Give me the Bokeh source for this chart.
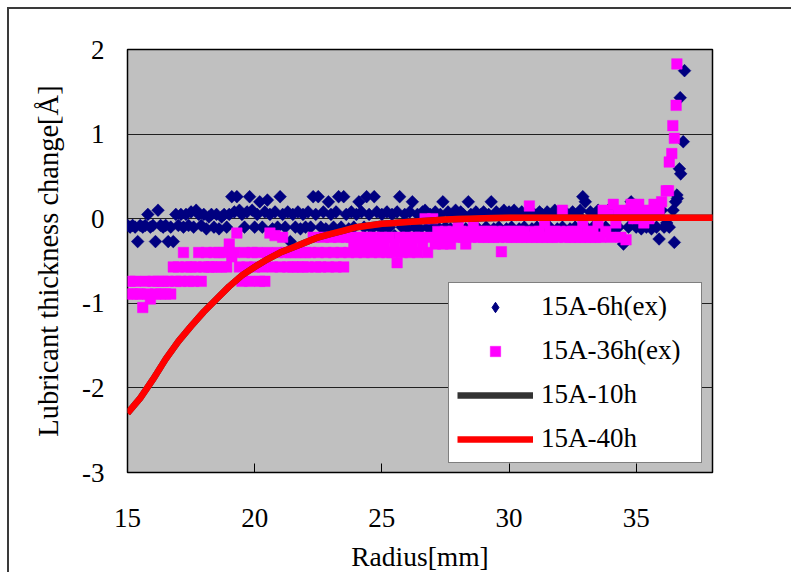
import numpy as np
from bokeh.plotting import figure
from bokeh.models import Legend, LegendItem, FixedTicker, ColumnDataSource, Range1d
from bokeh.embed import file_html
from bokeh.resources import INLINE

# ---------------- data ----------------
# 15A-6h(ex): values on a 0.1 mm radius grid starting at 15.0 mm (one row per mm)
ex6h_rows = [
    [-0.08, -0.10, -0.08, -0.10, -0.27, -0.08, -0.10, -0.08, 0.05, -0.10],   # 15
    [-0.08, -0.27, 0.10, -0.08, -0.10, -0.08, -0.27, -0.10, -0.27, 0.05],    # 16
    [-0.08, 0.05, -0.10, 0.05, -0.08, 0.08, -0.10, 0.10, 0.05, -0.08],       # 17
    [0.05, -0.12, 0.02, 0.05, -0.10, 0.05, -0.12, 0.02, 0.05, -0.10],        # 18
    [0.05, 0.26, 0.08, 0.26, 0.10, 0.05, -0.10, 0.08, 0.26, 0.10],           # 19
    [-0.10, 0.05, 0.20, -0.10, 0.08, 0.22, 0.05, -0.12, 0.08, -0.10],        # 20
    [0.26, 0.05, -0.10, 0.08, -0.27, 0.05, -0.10, 0.08, -0.12, 0.05],        # 21
    [-0.10, 0.08, -0.10, 0.26, 0.05, 0.26, -0.10, 0.08, -0.12, 0.20],        # 22
    [0.05, -0.10, 0.08, 0.26, -0.10, 0.26, 0.05, -0.12, 0.08, -0.10],        # 23
    [0.05, 0.20, 0.08, -0.10, 0.26, 0.05, -0.12, 0.26, 0.08, -0.10],         # 24
    [0.05, -0.12, 0.08, -0.10, 0.05, -0.20, 0.08, 0.26, -0.10, 0.05],        # 25
    [-0.12, 0.08, 0.20, -0.10, 0.05, -0.12, 0.08, 0.10, -0.10, 0.05],        # 26
    [-0.12, 0.08, -0.10, 0.05, 0.20, -0.10, 0.08, -0.12, 0.05, 0.10],        # 27
    [-0.10, 0.08, 0.05, -0.12, 0.20, 0.05, -0.10, 0.08, -0.12, 0.05],        # 28
    [0.08, -0.10, 0.05, 0.20, -0.12, 0.08, -0.10, 0.05, 0.10, -0.12],        # 29
    [0.08, -0.10, 0.10, 0.05, -0.12, 0.08, -0.10, 0.05, 0.08, -0.12],        # 30
    [0.05, -0.10, 0.08, 0.05, -0.12, 0.08, -0.10, 0.05, 0.10, -0.12],        # 31
    [0.05, -0.10, 0.08, 0.05, -0.12, 0.08, -0.10, 0.05, 0.10, 0.26],         # 32
    [0.20, -0.12, 0.08, -0.10, 0.05, 0.10, -0.12, 0.05, -0.10, 0.10],        # 33
    [0.05, -0.12, 0.08, -0.10, 0.05, -0.30, 0.08, -0.10, 0.20, 0.05],        # 34
    [-0.10, 0.08, -0.12, 0.05, -0.10, 0.08, -0.12, 0.05, -0.10, -0.24],      # 35
    [0.10, -0.10, -0.05, -0.10],                                              # 36.0-36.3
]
# edge rise of 15A-6h(ex)
ex6h_edge_r = [36.45, 36.50, 36.55, 36.60, 36.62, 36.70, 36.73, 36.75, 36.85, 36.90]
ex6h_edge_v = [0.10, -0.28, 0.20, 0.28, 0.24, 0.59, 1.43, 0.53, 0.91, 1.75]

# 15A-36h(ex): values on a 0.1 mm radius grid starting at 15.0 mm
ex36h_rows = [
    [-0.89, -0.74, -0.89, -0.74, -0.89, -0.89, -1.05, -0.74, -0.89, -0.95],  # 15
    [-0.74, -0.89, -0.74, -0.89, -0.74, -0.89, -0.74, -0.89, -0.57, -0.74],  # 16
    [-0.57, -0.74, -0.40, -0.57, -0.74, -0.57, -0.74, -0.57, -0.40, -0.74],  # 17
    [-0.57, -0.40, -0.57, -0.57, -0.40, -0.57, -0.40, -0.57, -0.40, -0.57],  # 18
    [-0.30, -0.45, -0.40, -0.17, -0.57, -0.74, -0.40, -0.57, -0.74, -0.40],  # 19
    [-0.57, -0.40, -0.74, -0.57, -0.74, -0.40, -0.17, -0.57, -0.20, -0.40],  # 20
    [-0.57, -0.22, -0.40, -0.57, -0.40, -0.57, -0.40, -0.57, -0.40, -0.57],  # 21
    [-0.40, -0.57, -0.40, -0.22, -0.57, -0.40, -0.57, -0.22, -0.40, -0.57],  # 22
    [-0.22, -0.40, -0.57, -0.22, -0.40, -0.57, -0.22, -0.40, -0.22, -0.30],  # 23
    [-0.40, -0.22, -0.30, -0.40, -0.22, -0.30, -0.40, -0.22, -0.30, -0.40],  # 24
    [-0.22, -0.30, -0.40, -0.22, -0.40, -0.30, -0.52, -0.22, -0.40, -0.30],  # 25
    [-0.22, -0.40, -0.30, -0.22, -0.40, -0.22, -0.30, 0.00, -0.40, -0.22],   # 26
    [0.00, -0.30, -0.15, -0.22, -0.30, -0.15, -0.22, -0.30, -0.15, -0.22],   # 27
    [-0.05, -0.15, -0.22, -0.30, -0.15, -0.22, -0.05, -0.15, -0.22, -0.15],  # 28
    [-0.22, -0.15, -0.22, -0.15, -0.22, -0.15, -0.22, -0.39, -0.15, -0.22],  # 29
    [-0.15, -0.22, -0.15, -0.22, -0.15, -0.22, -0.15, -0.22, 0.15, -0.22],   # 30
    [-0.15, -0.22, -0.15, -0.22, -0.05, -0.22, -0.15, -0.22, -0.15, -0.22],  # 31
    [-0.15, 0.10, -0.22, -0.15, -0.22, -0.15, -0.22, -0.15, -0.22, -0.05],   # 32
    [-0.22, -0.15, -0.22, -0.15, -0.22, -0.05, -0.22, 0.10, -0.15, 0.05],    # 33
    [-0.22, 0.17, -0.05, 0.08, -0.22, 0.10, -0.25, 0.05, 0.17, 0.00],        # 34
    [0.10, 0.17, 0.05, -0.05, 0.10, 0.00, 0.08, 0.17, 0.05, 0.10],           # 35
]
ex36h_edge_r = [36.00, 36.18, 36.27, 36.30, 36.40, 36.44, 36.50, 36.57, 36.60]
ex36h_edge_v = [0.20, 0.33, 0.33, 0.67, 0.77, 1.10, 0.95, 1.34, 1.83]

# simulated curves (15A-10h lies under 15A-40h)
curve_r = [15.0, 15.5, 16.0, 16.5, 17.0, 17.5, 18.0, 18.5, 19.0, 19.5, 20.0, 20.5,
           21.0, 21.5, 22.0, 22.5, 23.0, 23.5, 24.0, 24.5, 25.0, 25.5, 26.0, 26.5,
           27.0, 27.5, 28.0, 28.5, 29.0, 30.0, 32.0, 34.0, 36.0, 38.3]
curve_40h = [-2.30, -2.12, -1.90, -1.66, -1.45, -1.27, -1.10, -0.95, -0.80, -0.67,
             -0.57, -0.48, -0.40, -0.34, -0.28, -0.22, -0.18, -0.14, -0.10, -0.08,
             -0.06, -0.05, -0.04, -0.03, -0.02, -0.01, -0.005, 0.0, 0.005, 0.01,
             0.01, 0.01, 0.01, 0.01]
curve_10h = list(curve_40h)

x_ticks = [15, 20, 25, 30, 35]
y_ticks = [-3, -2, -1, 0, 1, 2]
y_tick_labels = ["-3", "-2", "-1", "0", "1", "2"]

# ---------------- assemble ----------------
def grid_series(rows, start=15.0, step=0.1):
    vals = [v for row in rows for v in row]
    rs = [round(start + step * i, 2) for i in range(len(vals))]
    return rs, vals

r6, v6 = grid_series(ex6h_rows)
r6 += ex6h_edge_r
v6 += ex6h_edge_v
r36, v36 = grid_series(ex36h_rows)
r36 += ex36h_edge_r
v36 += ex36h_edge_v

FONT = "'Liberation Serif', 'Times New Roman', serif"

p = figure(width=784, height=565, output_backend="svg", toolbar_location=None,
           x_range=Range1d(15, 38), y_range=Range1d(-3, 2),
           min_border_left=118, min_border_right=81, min_border_top=40, min_border_bottom=101,
           background_fill_color="#C0C0C0", border_fill_color="white")
p.styles = {"margin-left": "7px", "margin-top": "7px",
            "border-left": "2px solid #3a3a3a", "border-top": "2px solid #3a3a3a"}

p.outline_line_color = "black"
p.outline_line_width = 1.5
p.xgrid.visible = False
p.ygrid.grid_line_color = "#202020"
p.ygrid.grid_line_width = 1
p.ygrid.ticker = FixedTicker(ticks=y_ticks)

p.xaxis.ticker = FixedTicker(ticks=x_ticks)
p.yaxis.ticker = FixedTicker(ticks=y_ticks)
p.yaxis.major_label_overrides = {t: s for t, s in zip(y_ticks, y_tick_labels)}

for ax in (p.xaxis[0], p.yaxis[0]):
    ax.axis_line_color = None
    ax.minor_tick_line_color = None
    ax.major_tick_out = 0
    ax.major_label_text_font = FONT
    ax.major_label_text_font_size = "27px"
    ax.major_label_text_color = "black"
    ax.axis_label_text_font = FONT
    ax.axis_label_text_font_style = "normal"
    ax.axis_label_text_color = "black"

p.xaxis.major_tick_in = 9
p.xaxis.major_tick_line_color = "black"
p.xaxis.major_label_standoff = 36
p.xaxis.axis_label = "Radius[mm]"
p.xaxis.axis_label_text_font_size = "27.5px"
p.xaxis.axis_label_standoff = 11

p.yaxis.major_tick_in = 0
p.yaxis.major_tick_line_color = None
p.yaxis.major_label_standoff = 23
p.yaxis.axis_label = "Lubricant thickness change[Å]"
p.yaxis.axis_label_text_font_size = "28.5px"
p.yaxis.axis_label_standoff = 15

src6 = ColumnDataSource(dict(r=r6, v=v6))
src36 = ColumnDataSource(dict(r=r36, v=v36))
srcc = ColumnDataSource(dict(r=curve_r, v10=curve_10h, v40=curve_40h))

# diamond swatch renderer for the legend (sits fully underneath the rotated squares)
leg6 = p.scatter("r", "v", source=src6, marker="diamond", size=11,
                 fill_color="#000080", line_color="#000080")
p.scatter("r", "v", source=src6, marker="square", size=9, angle=np.pi / 4,
          fill_color="#000080", line_color="#000080", line_width=0.5)
s36 = p.scatter("r", "v", source=src36, marker="square", size=10.5,
                fill_color="#FF00FF", line_color="#FF00FF", line_width=0.5)
l10 = p.line("r", "v10", source=srcc, line_color="#333333", line_width=6.5)
l40 = p.line("r", "v40", source=srcc, line_color="#FF0000", line_width=6.5)

legend = Legend(items=[
    LegendItem(label="15A-6h(ex)", renderers=[leg6]),
    LegendItem(label="15A-36h(ex)", renderers=[s36]),
    LegendItem(label="15A-10h", renderers=[l10]),
    LegendItem(label="15A-40h", renderers=[l40]),
], location=(321, 9))
legend.border_line_color = "black"
legend.border_line_width = 1.5
legend.background_fill_color = "white"
legend.background_fill_alpha = 1.0
legend.label_text_font = FONT
legend.label_text_font_size = "27px"
legend.label_text_color = "black"
legend.glyph_width = 76
legend.glyph_height = 26
legend.label_height = 26
legend.label_width = 152
legend.label_standoff = 8
legend.padding = 8
legend.spacing = 13
legend.margin = 0
p.add_layout(legend)

open("out.html", "w").write(file_html(p, INLINE))
